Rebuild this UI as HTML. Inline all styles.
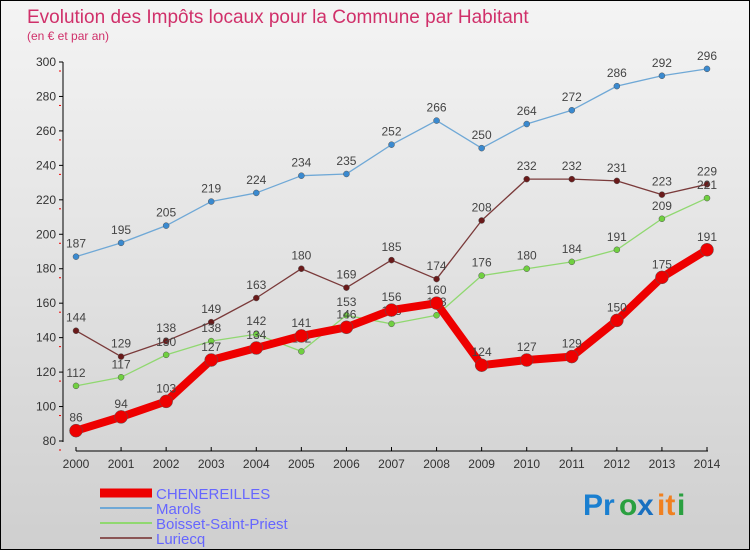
<!DOCTYPE html>
<html><head><meta charset="utf-8"><style>
body{margin:0;width:750px;height:550px;overflow:hidden;font-family:"Liberation Sans",sans-serif}
#wrap{position:relative;width:748px;height:548px;border:1px solid #000;background:linear-gradient(#f4f4f4,#cfcfcf)}
svg text{font-family:"Liberation Sans",sans-serif}
</style></head><body>
<div id="wrap">
<svg id="chart" width="748" height="548">
<text x="26" y="22" font-size="19" fill="#d0306a">Evolution des Impôts locaux pour la Commune par Habitant</text>
<text x="26" y="39" font-size="12" fill="#d0306a">(en € et par an)</text>
<g id="axes"></g><g id="series"></g><g id="legend"></g>
<g font-size="30" font-weight="bold">
<text x="582" y="514" fill="#1a7fd0">Pr</text><text x="618" y="514" fill="#2aa040">o</text><text x="636" y="514" fill="#1a70c0">x</text><text x="656" y="514" fill="#f08020">it</text><text x="676" y="514" fill="#2aa040">i</text>
</g>
</svg></div>
<script>
const years=[2000,2001,2002,2003,2004,2005,2006,2007,2008,2009,2010,2011,2012,2013,2014];
const yTicks=[80,100,120,140,160,180,200,220,240,260,280,300];
const chenereilles=[86,94,103,127,134,141,146,156,160,124,127,129,150,175,191];
const marols=[187,195,205,219,224,234,235,252,266,250,264,272,286,292,296];
const boisset=[112,117,130,138,142,132,153,148,153,176,180,184,191,209,221];
const luriecq=[144,129,138,149,163,180,169,185,174,208,232,232,231,223,229];
const seriesNames=["CHENEREILLES","Marols","Boisset-Saint-Priest","Luriecq"];
const NS="http://www.w3.org/2000/svg";
function X(i){return 75+i*(706-75)/(years.length-1);}
function Y(v){return 440-(v-80)*(440-61)/220;}
function mk(t,a,p){const e=document.createElementNS(NS,t);for(const k in a)e.setAttribute(k,a[k]);p.appendChild(e);return e;}
const axes=document.getElementById('axes');
let yl=mk('line',{x1:62,y1:61,x2:62,y2:441,stroke:'#000'},axes);


yTicks.forEach(v=>{
 mk('line',{x1:58,y1:Y(v),x2:62,y2:Y(v),stroke:'#000'},axes);
 mk('line',{x1:58,y1:Y(v)+9,x2:60,y2:Y(v)+9,stroke:'#e00'},axes);
 const t=mk('text',{x:55,y:Y(v)+4,'text-anchor':'end','font-size':12,fill:'#333'},axes);t.textContent=v;
 
 
});
let xl=mk('line',{x1:75,y1:450,x2:707,y2:450,stroke:'#000'},axes);


years.forEach((y,i)=>{
 mk('line',{x1:X(i),y1:446,x2:X(i),y2:450,stroke:'#000'},axes);
 const t=mk('text',{x:X(i),y:467,'text-anchor':'middle','font-size':12,fill:'#333'},axes);t.textContent=y;
 
 
});
const sg=document.getElementById('series');
function draw(data,color,width,r,name,dotFill){
 const g=mk('g',{},sg);
 
 
 mk('polyline',{points:data.map((v,i)=>X(i)+','+Y(v)).join(' '),fill:'none',stroke:color,'stroke-width':width,'stroke-linejoin':'round'},g);
 data.forEach((v,i)=>{
  const c=mk('circle',{cx:X(i),cy:Y(v),r:r,fill:dotFill,stroke:'#555','stroke-width':0.5},g);
  
  
  const t=mk('text',{x:X(i),y:Y(v)-9,'text-anchor':'middle','font-size':12,fill:'#444'},g);t.textContent=v;
  
  
 });
}
draw(marols,'#6fa8d6',1.3,3,'series-marols','#3a8ad0');
draw(luriecq,'#7a3a3a',1.3,3,'series-luriecq','#6a1a1a');
draw(boisset,'#90d870',1.3,3,'series-boisset','#70d040');
draw(chenereilles,'#ee0000',8,6.5,'series-chenereilles','#ee0000');
const lg=document.getElementById('legend');
const lc=['#ee0000','#6fa8d6','#90d870','#8a5555'],lw=[9,2,2,2];
seriesNames.forEach((n,i)=>{
 const y=492+i*15;
 const l=mk('line',{x1:99,y1:y,x2:151,y2:y,stroke:lc[i],'stroke-width':lw[i]},lg);
 
 
 const t=mk('text',{x:155,y:y+6,'font-size':15,fill:'#6666ff'},lg);t.textContent=n;
 
 
});
</script>
</body></html>
